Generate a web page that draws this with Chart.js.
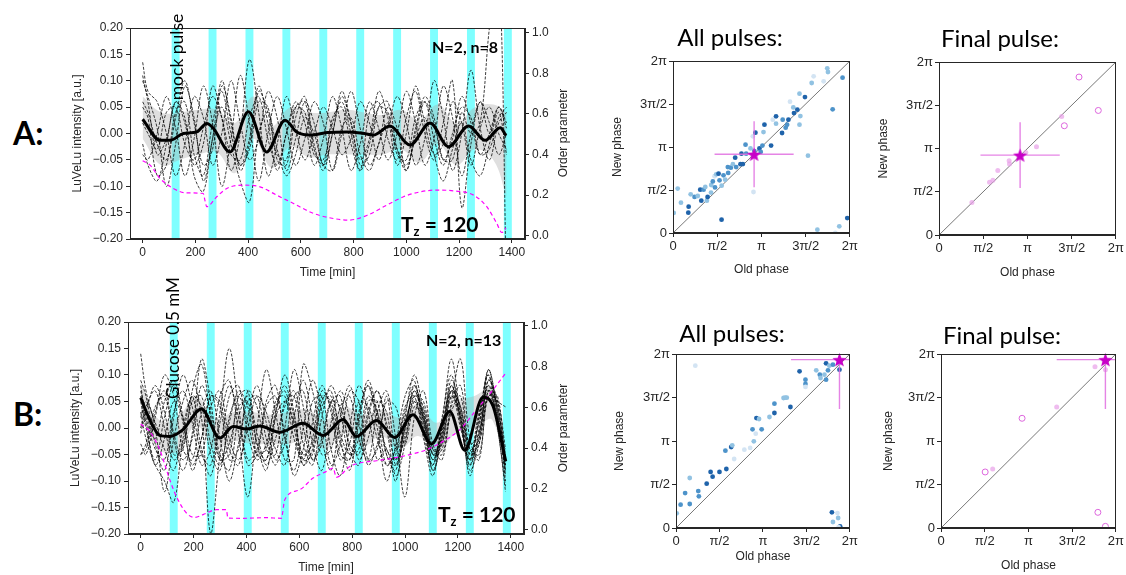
<!DOCTYPE html>
<html>
<head>
<meta charset="utf-8">
<script src="https://cdn.jsdelivr.net/npm/chart.js@4.4.1/dist/chart.umd.min.js"></script>
<style>
  body { margin: 0; background: #fff; width: 1126px; height: 575px; position: relative; overflow: hidden; }
  .box { position: absolute; }
  .lbl { position: absolute; white-space: nowrap; line-height: 1; color: #000; font-family: Lato, "Open Sans", sans-serif; }
  .rot { transform: translate(-50%, -50%) rotate(-90deg); }
  .ctr { transform: translateX(-50%); }
  .ax { font-family: "Liberation Sans", Arial, sans-serif; font-size: 12px; color: #262626; }
</style>
</head>
<body>
<div class="box" style="left:60px;top:0;width:520px;height:290px"><canvas id="tsA"></canvas></div>
<div class="box" style="left:60px;top:290px;width:520px;height:285px"><canvas id="tsB"></canvas></div>
<div class="box" style="left:600px;top:0;width:260px;height:285px"><canvas id="allA"></canvas></div>
<div class="box" style="left:860px;top:0;width:266px;height:290px"><canvas id="finA"></canvas></div>
<div class="box" style="left:600px;top:290px;width:260px;height:285px"><canvas id="allB"></canvas></div>
<div class="box" style="left:860px;top:290px;width:266px;height:285px"><canvas id="finB"></canvas></div>

<div class="lbl" style="left:13px;top:117px;font-size:32px;font-weight:bold">A:</div>
<div class="lbl" style="left:13px;top:398px;font-size:32px;font-weight:bold">B:</div>
<div class="lbl ctr" style="left:730px;top:25px;font-size:24px">All pulses:</div>
<div class="lbl ctr" style="left:1000px;top:26px;font-size:24px">Final pulse:</div>
<div class="lbl ctr" style="left:732px;top:321px;font-size:24px">All pulses:</div>
<div class="lbl ctr" style="left:1002px;top:323px;font-size:24px">Final pulse:</div>
<div class="lbl rot" style="left:177px;top:57px;font-size:17.5px">mock pulse</div>
<div class="lbl rot" style="left:172px;top:338px;font-size:17px">Glucose 0.5 mM</div>
<div class="lbl" style="left:432px;top:39px;font-size:16px;font-weight:bold">N=2, n=8</div>
<div class="lbl" style="left:426px;top:332px;font-size:16px;font-weight:bold">N=2, n=13</div>
<div class="lbl" style="left:401px;top:213px;font-size:21px;font-weight:bold">T<span style="font-size:0.62em;position:relative;top:0.3em">z</span> = 120</div>
<div class="lbl" style="left:438px;top:503px;font-size:21px;font-weight:bold">T<span style="font-size:0.62em;position:relative;top:0.3em">z</span> = 120</div>
<div class="lbl rot ax" style="left:563px;top:133px">Order parameter</div>
<div class="lbl rot ax" style="left:563px;top:428px">Order parameter</div>

<script>
// --- time series data ---
const timeGrid = [0,20,55,90,125,160,195,230,265,300,335,370,405,440,475,510,545,580,615,650,685,720,755,790,825,860,895,930,965,1000,1035,1070,1105,1140,1175,1210,1245,1280,1315,1350,1380];

const pulseStart = [110,250,390,530,670,810,950,1090,1230,1370];
const pulseLen = 30;

// mock pulse traces
const traceA1 = [0.11,0.06,-0.04,-0.01,0.06,0.02,-0.06,-0.02,0.09,0.03,-0.07,0.00,0.14,0.04,-0.08,-0.02,0.07,0.01,-0.05,0.00,0.05,0.01,-0.04,-0.01,0.06,0.02,-0.05,0.01,0.07,0.02,-0.06,-0.01,0.10,0.03,-0.07,0.00,0.12,0.01,-0.05,0.02,0.04];
const traceA2 = [0.135,0.08,0.06,0.00,-0.08,-0.02,0.07,0.03,-0.06,0.00,0.10,0.02,-0.05,-0.01,0.08,0.03,-0.07,-0.01,0.06,0.02,-0.06,0.00,0.07,0.02,-0.05,-0.01,0.08,0.03,-0.06,0.00,0.09,0.02,-0.04,-0.02,0.06,0.02,-0.06,0.01,0.05,0.00,-0.03];
const traceA3 = [-0.04,-0.05,0.00,0.07,0.01,-0.08,-0.01,0.09,0.02,-0.10,-0.01,0.11,0.02,-0.09,0.00,0.07,0.01,-0.06,-0.01,0.06,0.02,-0.07,0.00,0.08,0.01,-0.06,-0.02,0.05,0.01,-0.07,0.00,0.06,0.02,-0.05,-0.01,0.07,0.02,-0.04,0.00,0.05,0.01];
const traceA4 = [0.10,0.07,0.01,-0.10,-0.02,0.09,0.03,-0.09,-0.01,0.10,0.02,-0.06,-0.01,0.09,0.02,-0.07,0.00,0.06,0.02,-0.06,-0.01,0.07,0.01,-0.07,-0.02,0.06,0.01,-0.05,0.00,0.08,0.02,-0.06,-0.01,0.09,0.03,-0.08,0.00,0.06,0.02,-0.04,0.00];
const traceA5 = [0.05,0.03,-0.08,-0.06,0.04,0.06,-0.04,-0.08,0.02,0.08,0.00,-0.06,-0.03,0.06,0.05,-0.05,-0.06,0.03,0.07,-0.02,-0.07,0.00,0.08,0.02,-0.06,-0.04,0.05,0.06,-0.03,-0.07,0.01,0.07,0.03,-0.05,-0.05,0.04,0.00,0.02,0.20,0.32,-0.30];
const traceA6 = [0.02,0.00,-0.03,0.04,0.05,-0.02,-0.05,0.01,0.07,0.03,-0.04,-0.05,0.03,0.07,-0.01,-0.06,0.00,0.05,0.04,-0.04,-0.05,0.02,0.06,0.00,-0.07,-0.02,0.05,0.04,-0.04,-0.05,0.03,0.06,-0.01,-0.06,0.00,0.05,0.03,-0.04,-0.03,0.03,0.05];
const traceA7 = [0.06,0.04,-0.02,-0.05,0.03,0.10,0.02,-0.06,-0.03,0.09,0.03,-0.07,-0.02,0.08,0.04,-0.04,-0.05,0.05,0.06,-0.03,-0.06,0.03,0.05,-0.02,-0.07,0.04,0.06,-0.01,-0.05,0.03,0.08,0.00,-0.05,0.02,0.10,-0.14,-0.02,0.06,0.00,0.05,0.02];
const traceA8 = [-0.02,-0.06,-0.09,-0.02,0.06,0.03,-0.08,-0.11,-0.01,0.05,-0.02,-0.09,-0.13,0.00,0.04,-0.03,-0.08,-0.04,0.03,0.00,-0.06,-0.07,0.01,0.03,-0.04,-0.07,-0.02,0.02,-0.03,-0.06,-0.01,0.03,-0.04,-0.09,-0.03,0.02,-0.05,-0.08,-0.02,0.04,-0.04];

// glucose 0.5 mM traces
const traceB1 = [0.09,0.06,-0.03,-0.08,0.02,0.10,0.04,-0.05,-0.07,0.03,0.15,0.04,-0.06,-0.04,0.05,0.08,-0.02,-0.08,0.00,0.09,0.03,-0.07,-0.03,0.07,0.05,-0.06,-0.04,0.06,-0.04,0.00,0.07,0.01,-0.06,0.00,0.08,0.01,-0.07,0.02,0.10,0.02,-0.08];
const traceB2 = [0.05,0.00,-0.06,0.02,0.08,0.01,-0.07,-0.02,0.06,0.05,-0.04,-0.07,0.02,0.08,0.01,-0.06,-0.03,0.06,0.07,-0.03,-0.08,0.01,0.07,0.02,-0.06,-0.02,0.05,0.03,-0.07,-0.01,0.08,0.02,-0.08,-0.01,0.09,0.03,-0.09,0.00,0.11,0.03,-0.10];
const traceB3 = [-0.05,-0.03,0.04,0.06,-0.02,-0.08,-0.01,0.13,0.05,-0.06,-0.05,0.06,0.07,-0.03,-0.08,0.02,0.10,0.03,-0.06,-0.05,0.05,0.07,-0.02,-0.08,0.01,0.08,0.02,-0.07,-0.05,0.04,0.06,-0.02,-0.09,0.00,0.07,0.04,-0.06,-0.02,0.09,0.04,-0.07];
const traceB4 = [0.14,0.07,0.00,-0.12,-0.02,0.05,0.09,0.02,-0.20,-0.05,0.06,0.08,-0.01,-0.06,-0.03,0.04,0.07,0.00,-0.07,-0.04,0.06,0.05,-0.03,-0.06,0.02,0.09,0.03,-0.05,-0.08,0.02,0.10,0.03,-0.05,-0.02,0.06,0.02,-0.05,0.01,0.08,0.01,-0.06];
const traceB5 = [0.03,-0.02,-0.07,-0.10,-0.14,-0.02,0.06,-0.04,-0.09,0.01,0.08,0.02,-0.07,-0.05,0.04,0.06,-0.01,-0.09,-0.04,0.05,0.06,-0.04,-0.09,0.00,0.08,0.03,-0.06,-0.04,-0.10,0.01,0.05,0.00,-0.07,0.02,0.10,0.01,-0.06,0.03,0.07,0.00,-0.12];
const traceB6 = [0.00,0.04,0.07,0.00,-0.06,-0.03,0.05,0.06,-0.03,-0.07,0.01,0.07,0.04,-0.05,-0.06,0.03,0.08,0.02,-0.07,-0.02,0.07,0.04,-0.05,-0.06,0.03,0.08,0.00,-0.10,-0.03,0.06,0.09,-0.01,-0.07,0.01,0.13,0.02,-0.08,-0.03,0.06,0.05,-0.04];
const traceB7 = [0.08,0.02,-0.04,-0.06,0.03,0.07,0.01,-0.07,-0.04,0.06,0.09,-0.01,-0.13,0.00,0.11,0.03,-0.06,-0.06,0.12,0.07,-0.02,-0.08,0.02,0.08,0.01,-0.07,-0.03,0.05,0.04,-0.03,0.04,0.02,-0.05,-0.03,0.07,0.04,-0.04,-0.02,0.11,0.03,-0.05];
const traceB8 = [-0.03,-0.05,0.02,0.10,0.06,-0.04,-0.06,0.03,0.07,-0.02,-0.10,-0.03,0.05,0.06,-0.02,-0.07,0.00,0.11,0.04,-0.06,-0.03,0.05,0.06,-0.04,-0.07,0.02,0.07,0.01,-0.06,-0.02,0.05,0.03,-0.04,-0.03,0.06,0.03,-0.03,-0.01,0.09,0.05,-0.09];
const traceB9 = [0.06,0.01,-0.07,-0.02,0.05,0.02,-0.05,-0.05,0.04,0.07,-0.02,-0.06,0.00,0.06,0.03,-0.04,-0.07,0.02,0.09,0.02,-0.05,-0.04,0.04,0.06,-0.02,-0.06,0.03,0.07,-0.02,-0.13,0.02,0.07,-0.03,-0.06,0.04,0.08,-0.04,-0.05,0.06,0.06,-0.07];
const traceB10 = [0.02,0.05,0.01,-0.04,-0.08,0.00,0.06,0.04,-0.05,-0.08,0.02,0.06,0.01,-0.05,-0.04,0.05,0.06,-0.02,-0.06,0.01,0.08,0.03,-0.06,-0.03,0.05,0.04,-0.02,-0.07,-0.04,0.03,0.08,0.01,-0.08,-0.02,0.08,0.02,-0.07,-0.01,0.08,0.04,-0.06];
const traceB11 = [-0.01,0.03,0.08,0.03,-0.05,-0.04,0.07,0.12,0.02,-0.06,-0.03,0.04,0.05,-0.03,-0.06,0.02,0.05,0.01,-0.05,-0.03,0.04,0.06,-0.01,-0.05,-0.02,0.06,0.03,-0.04,-0.06,0.01,0.06,0.04,-0.05,-0.04,0.05,0.13,-0.02,-0.06,0.07,0.02,-0.08];
const traceB12 = [0.07,0.03,-0.02,0.05,0.09,0.02,-0.08,-0.02,0.06,0.04,-0.06,-0.04,0.07,0.04,-0.04,-0.05,0.05,0.06,-0.03,-0.07,0.02,0.08,0.03,-0.05,-0.04,0.05,0.05,-0.05,-0.07,0.00,0.07,0.02,-0.06,-0.01,0.07,0.00,-0.06,0.02,0.10,0.00,-0.11];
const traceB13 = [-0.05,-0.04,0.03,0.07,-0.01,-0.06,-0.02,0.08,0.03,-0.05,-0.08,0.02,0.06,-0.01,-0.07,-0.02,0.04,0.07,0.00,-0.06,-0.02,0.05,0.04,-0.03,-0.05,0.03,0.07,0.00,-0.09,-0.03,0.06,0.05,-0.04,-0.05,0.03,0.06,-0.05,-0.03,0.07,0.05,0.04];

// population mean (thick line)
const meanA_t = [0,66,104,154,205,243,268,331,401,470,540,584,640,700,774,840,875,938,1014,1090,1160,1236,1299,1356,1378];
const meanA_v = [0.027,-0.013,-0.013,0.0,0.003,0.019,0.010,-0.035,0.041,-0.035,0.025,0.003,-0.003,0.002,0.003,0.0,-0.003,0.014,-0.022,0.02,-0.025,0.014,-0.013,0.011,-0.004];
const meanB_t = [0,34,72,110,160,230,299,350,400,450,526,614,690,766,816,892,961,1030,1100,1169,1226,1295,1333,1381];
const meanB_v = [0.057,0.016,-0.014,-0.016,-0.003,0.036,-0.019,0.003,-0.002,0.004,-0.008,0.009,-0.014,0.016,-0.016,0.014,-0.018,0.025,-0.03,0.031,-0.042,0.058,0.041,-0.063];

// grey band
const bandT = [0,70,140,210,280,350,420,490,560,630,700,770,840,910,980,1050,1120,1190,1260,1330,1380];
const bandA_hi = [0.07,0.04,0.04,0.045,0.045,0.02,0.07,0.015,0.05,0.04,0.04,0.045,0.04,0.035,0.045,0.025,0.055,0.02,0.05,0.055,0.04];
const bandA_lo = [-0.01,-0.06,-0.05,-0.04,-0.035,-0.075,-0.01,-0.065,-0.025,-0.045,-0.04,-0.04,-0.04,-0.04,-0.03,-0.055,-0.02,-0.06,-0.03,-0.05,-0.12];
const bandB_hi = [0.085,0.015,0.02,0.06,0.015,0.03,0.03,0.025,0.03,0.035,0.015,0.04,0.025,0.035,0.02,0.045,0.01,0.05,0.06,0.075,-0.03];
const bandB_lo = [0.025,-0.04,-0.045,0.005,-0.04,-0.025,-0.03,-0.03,-0.03,-0.02,-0.04,-0.01,-0.035,-0.015,-0.04,-0.015,-0.05,-0.01,0.0,0.015,-0.1];

// order parameter (right axis)
const opA_t = [0,28,66,116,167,230,236,243,281,319,382,445,508,572,648,723,780,850,926,989,1052,1115,1179,1255,1305,1343,1362,1378];
const opA_v = [0.369,0.348,0.282,0.233,0.211,0.208,0.175,0.143,0.192,0.233,0.249,0.241,0.2,0.159,0.11,0.085,0.077,0.1,0.151,0.192,0.216,0.225,0.221,0.2,0.143,0.061,0.016,0.039];
const opB_t = [0,34,72,110,135,173,204,236,287,324,330,387,475,532,545,602,652,703,728,740,791,829,892,955,1018,1081,1144,1207,1270,1333,1381];
const opB_v = [0.518,0.482,0.392,0.245,0.163,0.082,0.06,0.074,0.098,0.098,0.057,0.056,0.059,0.056,0.147,0.196,0.253,0.286,0.302,0.257,0.31,0.327,0.338,0.351,0.368,0.392,0.433,0.49,0.588,0.686,0.768];

// --- phase response data (in units of pi) ---
const phaseTickLabels = ['0', 'π/2', 'π', '3π/2', '2π'];

const allA_old = [0.008,0.053,0.09,0.177,0.173,0.2,0.244,0.28,0.308,0.32,0.346,0.365,0.383,0.391,0.43,0.432,0.45,0.47,0.475,0.489,0.515,0.526,0.549,0.55,0.571,0.59,0.62,0.624,0.654,0.677,0.703,0.714,0.763,0.774,0.79,0.82,0.827,0.876,0.902,0.91,0.92,0.932,0.977,0.992,1.011,1.023,1.034,1.109,1.128,1.165,1.165,1.233,1.24,1.274,1.29,1.305,1.323,1.36,1.368,1.406,1.43,1.43,1.44,1.492,1.526,1.568,1.59,1.632,1.703,1.744,1.752,1.805,1.835,1.88,1.917,1.97];
const allA_new = [0.233,0.516,0.353,0.306,0.236,0.45,0.419,0.43,0.504,0.376,0.504,0.535,0.376,0.419,0.47,0.558,0.6,0.66,0.53,0.682,0.69,0.612,0.155,0.55,0.671,0.62,0.767,0.698,0.76,0.8,0.876,0.767,0.8,0.922,0.802,1.027,0.922,0.984,1.124,0.477,0.953,1.167,0.984,0.942,1.016,1.174,1.26,1.016,1.318,1.357,1.271,1.163,1.318,1.225,1.26,1.318,1.527,1.46,1.395,1.434,1.62,1.26,1.36,1.581,0.899,1.744,1.822,0.039,1.764,1.915,1.872,1.438,0.0,0.078,1.806,0.174];
const allA_shade = [1,1,1,3,3,1,2,1,3,3,2,1,1,3,1,1,2,0,2,1,3,2,3,1,2,1,2,2,2,1,3,2,3,3,3,2,2,1,0,0,2,3,3,2,2,1,3,3,0,3,1,3,2,2,2,3,0,1,3,3,1,1,1,3,1,1,0,1,0,1,1,2,0,1,2,3];
const finA_fill_old = [0.372,0.571,0.609,0.665,0.793,0.797,0.981,1.102,1.387];
const finA_fill_new = [0.375,0.61,0.633,0.745,0.857,0.82,0.954,1.019,1.371];
const finA_open_old = [1.583,1.417,1.801];
const finA_open_new = [1.826,1.263,1.44];

const allB_old = [0.008,0.053,0.105,0.158,0.158,0.222,0.256,0.263,0.353,0.398,0.421,0.5,0.579,0.568,0.635,0.647,0.669,0.786,0.853,0.895,0.917,0.88,0.925,0.955,0.985,1.075,1.132,1.132,1.237,1.256,1.274,1.316,1.421,1.489,1.489,1.489,1.613,1.654,1.662,1.707,1.726,1.726,1.748,1.763,1.805,1.88,1.88,1.793,1.805,1.857,1.865,1.887,1.87];
const allB_new = [0.169,0.268,0.402,0.575,0.276,1.866,0.425,0.364,0.51,0.644,0.59,0.644,0.678,0.889,0.931,0.95,0.793,0.9,0.92,0.996,1.084,1.134,1.264,1.253,1.134,1.276,1.322,1.429,1.494,1.498,1.498,1.391,1.801,1.705,1.655,1.621,1.812,1.762,1.724,1.762,1.893,1.705,1.812,1.866,1.877,1.904,1.82,0.18,0.069,0.172,0.115,0.019,0.01];
const allB_shade = [1,2,2,1,2,0,2,2,3,3,3,3,3,2,3,1,0,0,0,1,0,2,3,1,2,1,3,2,1,1,1,3,3,2,2,0,1,2,1,1,3,2,2,1,2,3,3,3,1,0,1,3,0];
const finB_fill_old = [0.591,1.323,1.761,1.88];
const finB_fill_new = [0.678,1.391,1.854,1.82];
const finB_open_old = [0.505,0.927,1.794,1.88];
const finB_open_new = [0.644,1.261,0.18,0.019];

// mean phase (star) and its spread
const starAllA = [0.917, 0.915], errAllA = [0.447, 0.384];
const starFinA = [0.917, 0.923], errFinA = [0.448, 0.38];
const starAllB = [1.88, 1.935], errAllB = [0.557, 0.567];
const starFinB = [1.88, 1.935], errFinB = [0.557, 0.567];

// --- styling helpers ---
const INK = '#262626';
const FONT_AX = { family: '"Liberation Sans", Arial, sans-serif', size: 12 };
const FONT_PH = { family: '"Liberation Sans", Arial, sans-serif', size: 13 };
const shadeColors = ['#d3e4f3', '#91c2e2', '#4d93ca', '#1f63aa'];

const pts = (xs, ys) => xs.map((x, i) => ({ x, y: ys[i] }));

function fmt2(v) {
  if (Math.abs(v) < 1e-9) return '0.00';
  const s = Math.abs(v).toFixed(2);
  return v < 0 ? '\u2212' + s : s;
}

const framePlugin = {
  id: 'frame',
  afterDatasetsDraw(chart) {
    const { ctx, chartArea: a } = chart;
    ctx.save();
    ctx.strokeStyle = INK;
    ctx.lineWidth = 1;
    ctx.strokeRect(Math.round(a.left) + 0.5, Math.round(a.top) + 0.5,
      Math.round(a.right - a.left) - 1, Math.round(a.bottom - a.top) - 1);
    ctx.restore();
  }
};

const pulsePlugin = {
  id: 'pulses',
  beforeDatasetsDraw(chart) {
    const { ctx, chartArea: a, scales: { x } } = chart;
    ctx.save();
    ctx.fillStyle = 'rgba(0,255,255,0.5)';
    pulseStart.forEach(t => {
      const x0 = x.getPixelForValue(t), x1 = x.getPixelForValue(t + pulseLen);
      ctx.fillRect(x0, a.top, x1 - x0, a.bottom - a.top);
    });
    ctx.restore();
  }
};

function axisStyle() {
  return {
    grid: { drawOnChartArea: false, tickLength: 4, tickColor: INK },
    border: { color: INK, width: 1 }
  };
}

function timeSeries(id, g, traces, meanT, meanV, bandHi, bandLo, opT, opV) {
  const ds = [];
  ds.push({ data: pts(meanT, meanV), borderColor: '#000', borderWidth: 3, cubicInterpolationMode: 'monotone', order: 0 });
  ds.push({ data: pts(opT, opV), yAxisID: 'y2', borderColor: '#ff00ff', borderWidth: 1.2, borderDash: [4, 3], cubicInterpolationMode: 'monotone', order: 1 });
  traces.forEach(tr => ds.push({ data: pts(timeGrid, tr), borderColor: 'rgba(0,0,0,0.9)', borderWidth: 0.85, borderDash: [3, 1.5], tension: 0.35, order: 2 }));
  ds.push({ data: pts(bandT, bandHi), borderWidth: 0, borderColor: 'rgba(0,0,0,0)', backgroundColor: 'rgba(170,170,170,0.38)', fill: '+1', tension: 0.4, order: 3 });
  ds.push({ data: pts(bandT, bandLo), borderWidth: 0, borderColor: 'rgba(0,0,0,0)', fill: false, tension: 0.4, order: 3 });

  new Chart(document.getElementById(id), {
    type: 'line',
    data: { datasets: ds },
    options: {
      responsive: true, maintainAspectRatio: false, animation: false,
      layout: { padding: { top: g.top, right: 0, left: 0, bottom: 0 } },
      plugins: { legend: { display: false }, tooltip: { enabled: false } },
      elements: { point: { radius: 0 } },
      scales: {
        x: {
          type: 'linear', min: -48, max: 1450,
          afterFit: s => { s.height = g.xh; },
          ticks: { stepSize: 200, includeBounds: false, autoSkip: false, maxRotation: 0, callback: v => String(v), color: INK, font: FONT_AX, padding: 2 },
          title: { display: true, text: 'Time [min]', color: INK, font: FONT_AX, padding: { top: 0, bottom: g.xtp } },
          ...axisStyle()
        },
        y: {
          min: -0.2, max: 0.2,
          afterFit: s => { s.width = g.yw; },
          ticks: { stepSize: 0.05, autoSkip: false, callback: fmt2, color: INK, font: FONT_AX, padding: 3 },
          title: { display: true, text: 'LuVeLu intensity [a.u.]', color: INK, font: FONT_AX, padding: { top: g.ytp, bottom: 0 } },
          ...axisStyle()
        },
        y2: {
          position: 'right', min: g.opMin, max: g.opMax,
          afterFit: s => { s.width = g.y2w; },
          ticks: { stepSize: 0.2, includeBounds: false, autoSkip: false, callback: v => v.toFixed(1), color: INK, font: FONT_AX, padding: 3 },
          ...axisStyle()
        }
      }
    },
    plugins: [pulsePlugin, framePlugin]
  });
}

function makeStar(size, color) {
  const c = document.createElement('canvas');
  c.width = c.height = size;
  const g = c.getContext('2d');
  g.fillStyle = color;
  g.beginPath();
  for (let i = 0; i < 10; i++) {
    const r = i % 2 ? size * 0.21 : size * 0.5;
    const a = -Math.PI / 2 + i * Math.PI / 5;
    g.lineTo(size / 2 + r * Math.cos(a), size / 2 + r * Math.sin(a) + size * 0.05);
  }
  g.closePath();
  g.fill();
  return c;
}
const starImg = makeStar(15, '#c800c8');

function phasePlot(id, g, pointSets, star, err) {
  const errColor = 'rgba(225,110,225,0.85)';
  const ds = [
    { data: [{ x: star[0], y: star[1] }], showLine: false, pointStyle: starImg, pointRadius: 7, clip: false, order: 0 },
    { data: [{ x: star[0] - err[0], y: star[1] }, { x: star[0] + err[0], y: star[1] }], borderColor: errColor, borderWidth: 1.4, pointRadius: 0, order: 1 },
    { data: [{ x: star[0], y: star[1] - err[1] }, { x: star[0], y: star[1] + err[1] }], borderColor: errColor, borderWidth: 1.4, pointRadius: 0, order: 1 },
    ...pointSets.map(p => Object.assign({ showLine: false, order: 2 }, p)),
    { data: [{ x: 0, y: 0 }, { x: 2, y: 2 }], borderColor: '#555', borderWidth: 0.8, pointRadius: 0, order: 3 }
  ];
  const phaseAxis = (title, pad) => ({
    type: 'linear', min: 0, max: 2,
    ticks: { stepSize: 0.5, autoSkip: false, maxRotation: 0, callback: v => phaseTickLabels[Math.round(v * 2)], color: INK, font: FONT_PH, padding: 2 },
    title: { display: true, text: title, color: INK, font: FONT_AX, padding: pad },
    ...axisStyle()
  });
  const x = phaseAxis('Old phase', { top: 0, bottom: g.xtp });
  x.afterFit = s => { s.height = g.xh; };
  const y = phaseAxis('New phase', { top: g.ytp, bottom: 0 });
  y.afterFit = s => { s.width = g.yw; };

  new Chart(document.getElementById(id), {
    type: 'line',
    data: { datasets: ds },
    options: {
      responsive: true, maintainAspectRatio: false, animation: false,
      layout: { padding: { top: g.top, right: g.right, left: 0, bottom: 0 } },
      plugins: { legend: { display: false }, tooltip: { enabled: false } },
      scales: { x, y }
    },
    plugins: [framePlugin]
  });
}

const blueSet = (xs, ys, shades) => ({
  data: pts(xs, ys), pointRadius: 2.4, pointBorderWidth: 0,
  pointBackgroundColor: shades.map(s => shadeColors[s])
});
const filledSet = (xs, ys) => ({
  data: pts(xs, ys), pointRadius: 2.5, pointBorderWidth: 0,
  pointBackgroundColor: 'rgba(232,160,232,0.7)'
});
const openSet = (xs, ys) => ({
  data: pts(xs, ys), pointRadius: 3, pointBorderWidth: 1,
  pointBorderColor: '#dd66dd', pointBackgroundColor: 'rgba(0,0,0,0)'
});

timeSeries('tsA', { top: 28, xh: 51, yw: 70, y2w: 55, xtp: 10, ytp: 10, opMin: -0.016, opMax: 1.023 },
  [traceA1, traceA2, traceA3, traceA4, traceA5, traceA6, traceA7, traceA8],
  meanA_t, meanA_v, bandA_hi, bandA_lo, opA_t, opA_v);
timeSeries('tsB', { top: 32, xh: 41, yw: 68, y2w: 56, xtp: 0, ytp: 8, opMin: -0.021, opMax: 1.018 },
  [traceB1, traceB2, traceB3, traceB4, traceB5, traceB6, traceB7, traceB8, traceB9, traceB10, traceB11, traceB12, traceB13],
  meanB_t, meanB_v, bandB_hi, bandB_lo, opB_t, opB_v);

phasePlot('allA', { top: 61, right: 10, yw: 73, xh: 52, ytp: 10, xtp: 8 },
  [blueSet(allA_old, allA_new, allA_shade)], starAllA, errAllA);
phasePlot('finA', { top: 62, right: 9, yw: 79, xh: 55, ytp: 16, xtp: 10 },
  [filledSet(finA_fill_old, finA_fill_new), openSet(finA_open_old, finA_open_new)], starFinA, errFinA);
phasePlot('allB', { top: 64, right: 7, yw: 76, xh: 47, ytp: 12, xtp: 11 },
  [blueSet(allB_old, allB_new, allB_shade)], starAllB, errAllB);
phasePlot('finB', { top: 64, right: 7, yw: 81, xh: 47, ytp: 21, xtp: 2 },
  [filledSet(finB_fill_old, finB_fill_new), openSet(finB_open_old, finB_open_new)], starFinB, errFinB);
</script>
</body>
</html>
